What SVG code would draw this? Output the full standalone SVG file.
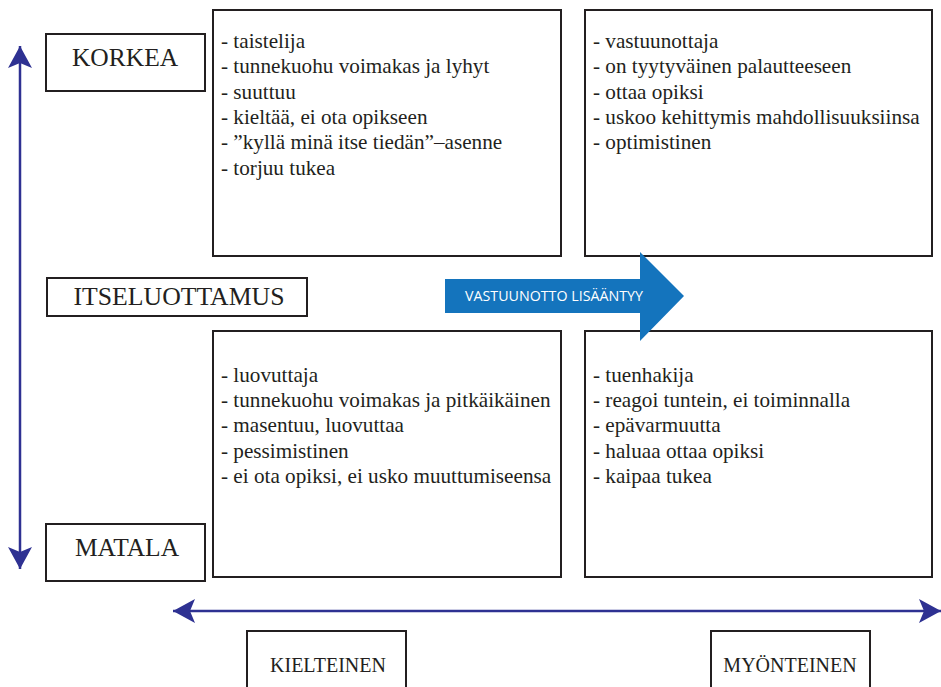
<svg xmlns="http://www.w3.org/2000/svg" width="941" height="687" viewBox="0 0 941 687">
<style>
.box{fill:#fff;stroke:#231f20;stroke-width:2}
.lbl{font-family:"Liberation Serif",serif;font-size:25.5px;fill:#231f20;text-anchor:middle}
.sm{font-family:"Liberation Serif",serif;font-size:20px;fill:#231f20;text-anchor:middle}
.q{font-family:"Liberation Serif",serif;font-size:21.2px;fill:#231f20}
.axis{stroke:#2e3192;stroke-width:2.5;fill:none}
</style>
<defs>
<marker id="barb" viewBox="0 0 22 24" refX="22" refY="12" markerWidth="22" markerHeight="24" markerUnits="userSpaceOnUse" orient="auto-start-reverse">
<path d="M0,0 L22,12 L0,24 L5,12 Z" fill="#2e3192"/>
</marker>
</defs>
<rect width="941" height="687" fill="#fff"/>
<g id="connectors">
<line class="axis" x1="20" y1="569" x2="20" y2="46" marker-start="url(#barb)" marker-end="url(#barb)"/>
<line class="axis" x1="173" y1="611" x2="941" y2="611" marker-start="url(#barb)" marker-end="url(#barb)"/>
</g>
<g id="korkea"><rect class="box" x="46" y="34" width="159" height="57"/><text class="lbl" x="125" y="66">KORKEA</text></g>
<g id="itseluottamus"><rect class="box" x="47" y="278" width="260" height="38"/><text class="lbl" x="179" y="305" textLength="211" lengthAdjust="spacingAndGlyphs">ITSELUOTTAMUS</text></g>
<g id="matala"><rect class="box" x="46" y="524" width="159" height="57"/><text class="lbl" x="127" y="556">MATALA</text></g>
<g id="kielteinen"><rect class="box" x="247" y="631" width="159" height="60"/><text class="sm" x="328" y="672">KIELTEINEN</text></g>
<g id="myonteinen"><rect class="box" x="711" y="631" width="159" height="60"/><text class="sm" x="790" y="672">MYÖNTEINEN</text></g>
<g id="q-top-left"><rect class="box" x="213" y="10" width="348" height="246"/>
<text class="q" x="221" y="48">- taistelija</text>
<text class="q" x="221" y="73">- tunnekuohu voimakas ja lyhyt</text>
<text class="q" x="221" y="99">- suuttuu</text>
<text class="q" x="221" y="124">- kieltää, ei ota opikseen</text>
<text class="q" x="221" y="149">- ”kyllä minä itse tiedän”–asenne</text>
<text class="q" x="221" y="175">- torjuu tukea</text>
</g>
<g id="q-top-right"><rect class="box" x="585" y="10" width="347" height="246"/>
<text class="q" x="593" y="48">- vastuunottaja</text>
<text class="q" x="593" y="73">- on tyytyväinen palautteeseen</text>
<text class="q" x="593" y="99">- ottaa opiksi</text>
<text class="q" x="593" y="124">- uskoo kehittymis mahdollisuuksiinsa</text>
<text class="q" x="593" y="149">- optimistinen</text>
</g>
<g id="q-bottom-left"><rect class="box" x="213" y="331" width="348" height="246"/>
<text class="q" x="221" y="382">- luovuttaja</text>
<text class="q" x="221" y="407">- tunnekuohu voimakas ja pitkäikäinen</text>
<text class="q" x="221" y="432">- masentuu, luovuttaa</text>
<text class="q" x="221" y="458">- pessimistinen</text>
<text class="q" x="221" y="483">- ei ota opiksi, ei usko muuttumiseensa</text>
</g>
<g id="q-bottom-right"><rect class="box" x="585" y="331" width="347" height="246"/>
<text class="q" x="593" y="382">- tuenhakija</text>
<text class="q" x="593" y="407">- reagoi tuntein, ei toiminnalla</text>
<text class="q" x="593" y="432">- epävarmuutta</text>
<text class="q" x="593" y="458">- haluaa ottaa opiksi</text>
<text class="q" x="593" y="483">- kaipaa tukea</text>
</g>
<g id="vastuunotto">
<polygon points="445,279 640,279 640,252 684,296 640,341 640,313 445,313" fill="#1474bd"/>
<text x="465" y="301" font-family="'Open Sans',sans-serif" font-size="14" fill="#fff" textLength="178" lengthAdjust="spacingAndGlyphs">VASTUUNOTTO LISÄÄNTYY</text>
</g>
</svg>
